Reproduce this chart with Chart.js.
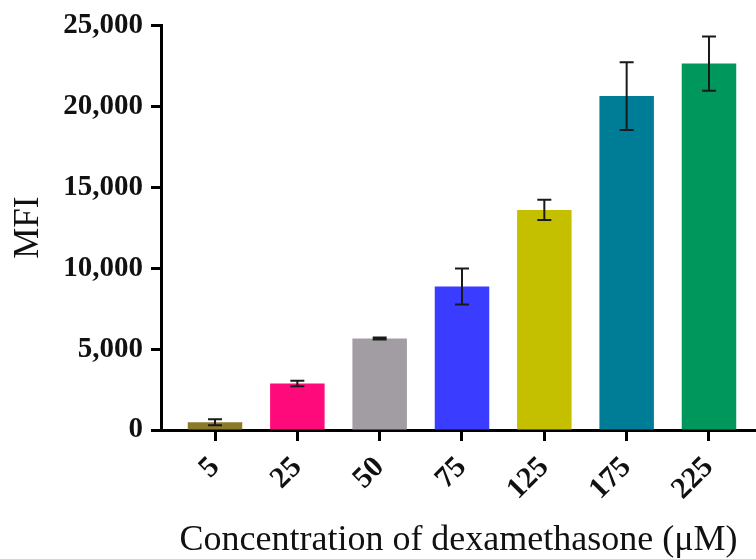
<!DOCTYPE html>
<html>
<head>
<meta charset="utf-8">
<script src="https://cdn.jsdelivr.net/npm/chart.js@4/dist/chart.umd.min.js"></script>
<style>
  html, body { margin: 0; padding: 0; background: #fff; }
  #wrap { width: 756px; height: 559px; position: relative; }
</style>
</head>
<body>
<div id="wrap"><canvas id="c" width="756" height="559"></canvas></div>
<script>
const categories = ['5', '25', '50', '75', '125', '175', '225'];
const mfiMeans = [480, 2880, 5650, 8870, 13600, 20630, 22640];
const mfiErrors = [180, 170, 60, 1110, 630, 2100, 1680];
const barColors = ['#8C7A2C', '#FF0A7A', '#A29DA3', '#3A3CFF', '#C4C000', '#007D96', '#00975D'];
const yTickValues = [0, 5000, 10000, 15000, 20000, 25000];
const xTitle = 'Concentration of dexamethasone (\u03BCM)';
const yTitle = 'MFI';

const serif = "'Liberation Serif', 'Times New Roman', serif";

const errorBarPlugin = {
  id: 'errorBars',
  afterDatasetsDraw(chart) {
    const ctx = chart.ctx;
    const xs = chart.scales.x, ys = chart.scales.y;
    ctx.save();
    ctx.strokeStyle = '#1a1a1a';
    ctx.lineWidth = 2;
    mfiMeans.forEach((m, i) => {
      const x = xs.getPixelForValue(i);
      const yt = ys.getPixelForValue(m + mfiErrors[i]);
      const yb = ys.getPixelForValue(m - mfiErrors[i]);
      const cap = 7;
      ctx.beginPath();
      ctx.moveTo(x, yt); ctx.lineTo(x, yb);
      ctx.moveTo(x - cap, yt); ctx.lineTo(x + cap, yt);
      ctx.moveTo(x - cap, yb); ctx.lineTo(x + cap, yb);
      ctx.stroke();
    });
    ctx.restore();
  }
};

new Chart(document.getElementById('c'), {
  type: 'bar',
  data: {
    datasets: [{
      data: categories.map((c, i) => ({ x: i, y: mfiMeans[i] })),
      backgroundColor: barColors,
      borderWidth: 0,
      categoryPercentage: 1,
      barPercentage: 0.662
    }]
  },
  options: {
    responsive: false,
    animation: false,
    devicePixelRatio: 1,
    layout: { padding: { top: 25, left: 0, right: 0, bottom: 0 } },
    plugins: { legend: { display: false }, tooltip: { enabled: false } },
    scales: {
      x: {
        type: 'linear',
        offset: false,
        min: -0.656,
        max: 6.571,
        afterBuildTicks(scale) { scale.ticks = categories.map((c, i) => ({ value: i })); },
        afterFit(scale) { scale.height = 129; },
        grid: { display: true, offset: false, drawOnChartArea: false, drawTicks: true, tickLength: 11, tickWidth: 3, color: '#000' },
        border: { display: true, width: 3, color: '#000' },
        ticks: {
          autoSkip: false,
          minRotation: 45,
          maxRotation: 45,
          padding: 9,
          color: '#111',
          font: { family: serif, size: 30, weight: 'bold' },
          callback: (v) => categories[v] ?? ''
        },
        title: {
          display: true,
          text: xTitle,
          color: '#111',
          padding: { top: 0, bottom: 0 },
          font: { family: serif, size: 36, weight: 'normal', lineHeight: 1 }
        }
      },
      y: {
        min: 0,
        max: 25000,
        afterBuildTicks(scale) { scale.ticks = yTickValues.map(v => ({ value: v })); },
        afterFit(scale) { scale.width = 161; },
        grid: { display: true, drawOnChartArea: false, drawTicks: true, tickLength: 10, tickWidth: 3, color: '#000' },
        border: { display: true, width: 3, color: '#000' },
        ticks: {
          padding: 8,
          color: '#111',
          font: { family: serif, size: 29, weight: 'bold' },
          callback: (v) => v.toLocaleString('en-US')
        },
        title: {
          display: true,
          text: yTitle,
          color: '#111',
          padding: { top: 8, bottom: 0 },
          font: { family: serif, size: 35, weight: 'normal' }
        }
      }
    }
  },
  plugins: [errorBarPlugin]
});
</script>
</body>
</html>
